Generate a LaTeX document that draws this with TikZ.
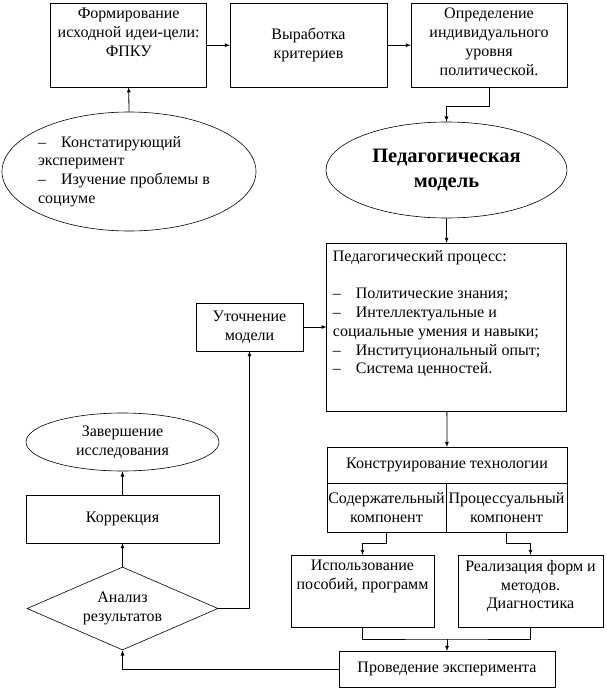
\documentclass[tikz,border=0pt]{standalone}
\usepackage{fontspec}
\setmainfont{Liberation Serif}[Ligatures=TeX]
\usetikzlibrary{shapes,arrows,positioning}
\newcommand{\dashmark}{\makebox[23pt][l]{–}}

\begin{document}
\begin{tikzpicture}[x=1pt,y=-1pt,
  every node/.style={font=\rmfamily\fontsize{16}{18.8}\selectfont},
  box/.style={draw,rectangle,line width=0.8pt,inner sep=1pt,outer sep=0pt,align=center},
  txt/.style={align=center,inner sep=0pt},
  oval/.style={draw,ellipse,line width=0.6pt,inner sep=0pt,align=center},
  arr/.style={->,>=latex,line width=0.8pt},
  line/.style={line width=0.8pt}]
\useasboundingbox (0,0) rectangle (606,690);

% Top row
\node[box,minimum width=156pt,minimum height=84pt] (form) at (128.7,45.2) {};
\node[txt,below=5pt of form.north] (formtxt) {Формирование\\исходной идеи-цели:\\ФПКУ};
\node[box,minimum width=157pt,minimum height=84pt] (vyr) at (308.5,45.2) {Выработка\\критериев};
\node[box,minimum width=156pt,minimum height=84pt] (opr) at (489,45.2) {};
\node[txt,below=5pt of opr.north] (oprtxt) {Определение\\индивидуального\\уровня\\политической.};

% Ellipses
\node[oval,minimum width=254pt,minimum height=119pt] (konst) at (129,171.5) {};
\node[txt,align=left,xshift=-5pt] (konsttxt) at (konst) {\dashmark Констатирующий\\эксперимент\\\dashmark Изучение проблемы в\\социуме};
\node[oval,minimum width=241pt,minimum height=96pt,font=\rmfamily\bfseries\fontsize{20.5}{24.5}\selectfont] (model) at (446.5,170) {Педагогическая\\модель};

% Pedagogical process
\node[box,minimum width=240pt,minimum height=168pt] (proc) at (446.7,327) {};
\node[txt,align=left,below right=7pt and 6pt of proc.north west] (proctxt) {Педагогический процесс:\\[18.8pt]
\dashmark Политические знания;\\
\dashmark Интеллектуальные и\\
социальные умения и навыки;\\
\dashmark Институциональный опыт;\\
\dashmark Система ценностей.};
\node[box,minimum width=107pt,minimum height=48pt] (utoch) at (249.5,327) {Уточнение\\модели};

% Technology
\node[box,minimum width=240pt,minimum height=36pt] (tech) at (447,465) {Конструирование технологии};
\node[box,minimum width=119pt,minimum height=49pt,anchor=north west] (soder) at (tech.south west) {Содержательный\\компонент};
\node[box,minimum width=121pt,minimum height=49pt,anchor=north east] (proces) at (tech.south east) {Процессуальный\\компонент};
\node[box,minimum width=143pt,minimum height=72pt] (ispol) at (362.5,591) {};
\node[txt,below=5pt of ispol.north] (ispoltxt) {Использование\\пособий, программ};
\node[box,minimum width=145pt,minimum height=72pt] (real) at (530.5,591) {};
\node[txt,below=5pt of real.north] (realtxt) {Реализация форм и\\методов.\\Диагностика};
\node[box,minimum width=216pt,minimum height=36pt] (prov) at (447,669) {Проведение эксперимента};

% Left column
\node[oval,minimum width=193pt,minimum height=58pt] (zaversh) at (122.5,442) {Завершение\\исследования};
\node[box,minimum width=193pt,minimum height=48pt] (korr) at (122.5,519) {Коррекция};
\node[diamond,draw,line width=0.6pt,inner sep=0pt,aspect=2.3,align=center,minimum width=191pt,minimum height=83pt] (anal) at (122.5,608.5) {Анализ\\результатов};

% Arrows
\draw[arr] (konst.north) -- (form.south);
\draw[arr] (form) -- (vyr);
\draw[arr] (vyr) -- (opr);
\draw[arr] (opr.south) -- ++(0,19) -| (model.north);
\draw[arr] (model) -- (proc);
\draw[arr] (utoch) -- (proc);
\draw[arr] (proc) -- (tech);
\draw[arr] (soder.south) -- ++(0,11) -| (ispol.north);
\draw[arr] (proces.south) -- ++(0,11) -| (real.north);
\coordinate (join) at (447,639);
\draw[line] (ispol.south) |- (join) -| (real.south);
\draw[arr] (join) -- (prov);
\draw[arr] (prov.west) -| (anal.south);
\draw[arr] (anal) -- (korr);
\draw[arr] (korr) -- (zaversh);
\draw[arr] (anal.east) -| (utoch.south);

\end{tikzpicture}
\end{document}
